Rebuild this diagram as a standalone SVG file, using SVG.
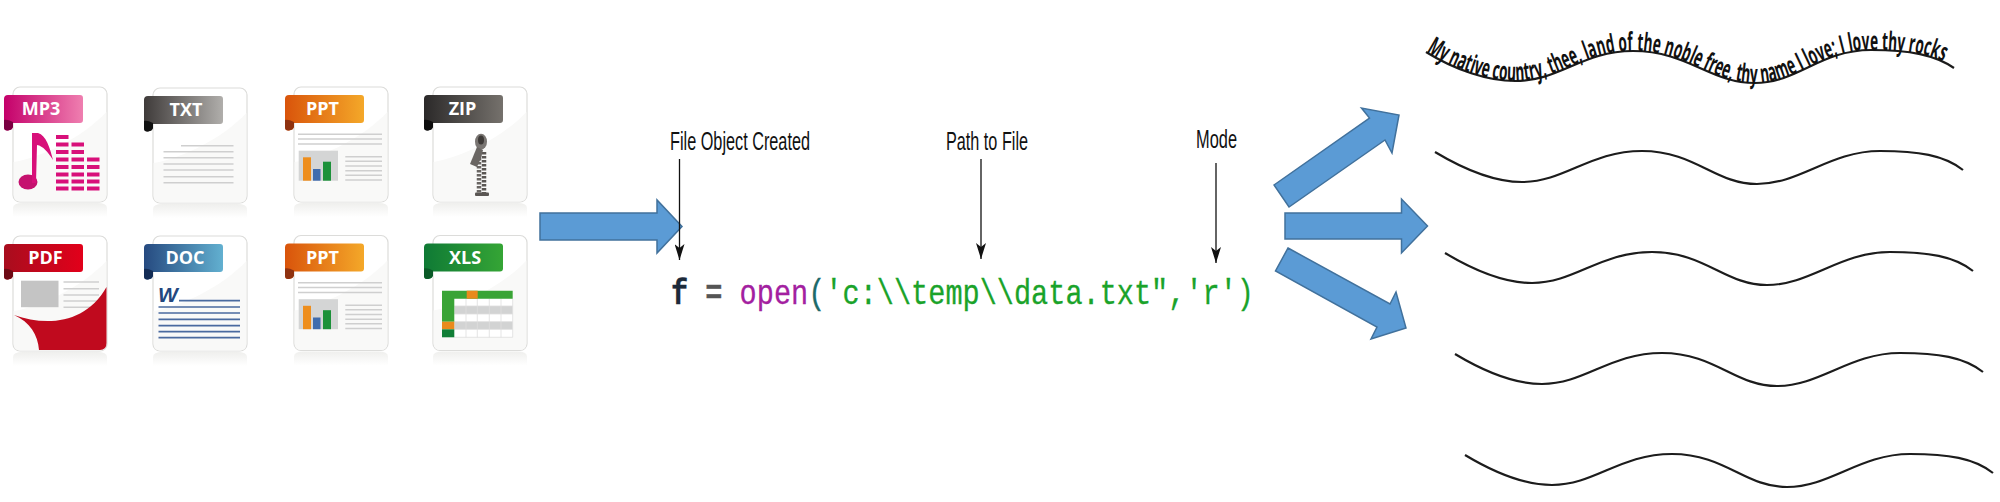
<svg xmlns="http://www.w3.org/2000/svg" xmlns:xlink="http://www.w3.org/1999/xlink" width="2000" height="502" viewBox="0 0 2000 502">
<style>
.rt{font-family:"Open Sans","Noto Sans",sans-serif;font-weight:700;font-size:18px;fill:#fff;text-anchor:middle}
.lb{font-family:"Liberation Sans",Arial,sans-serif;font-size:25px;fill:#111}
.code{font-family:"Liberation Mono","Courier New",monospace;font-size:35px;fill:#1aa32a;stroke:#1aa32a;stroke-width:.3}
.wave{fill:none;stroke:#1c1c1c;stroke-width:2.2}
.blk{fill:#5b9bd5;stroke:#41719c;stroke-width:1.5}
.ptr{stroke:#111;stroke-width:1.3;fill:none;marker-end:url(#tip)}
.ln{stroke:#cfcfcf;stroke-width:1.4;fill:none}
.bl{stroke:#4a6a9f;stroke-width:1.7;fill:none}
.m{fill:#d8107a}
</style>
<defs>
<marker id="tip" markerUnits="userSpaceOnUse" markerWidth="16" markerHeight="10" refX="16" refY="5" orient="auto" viewBox="0 0 16 10"><path d="M0 0 L16 5 L0 10 L4 5 Z" fill="#111"/></marker>
<linearGradient id="gMp3"><stop offset="0" stop-color="#c4006a"/><stop offset="1" stop-color="#ef7fb0"/></linearGradient>
<linearGradient id="gTxt"><stop offset="0" stop-color="#3f3b3a"/><stop offset="1" stop-color="#b0aeab"/></linearGradient>
<linearGradient id="gPdf"><stop offset="0" stop-color="#a80d1e"/><stop offset="1" stop-color="#e2001a"/></linearGradient>
<linearGradient id="gDoc"><stop offset="0" stop-color="#264a80"/><stop offset="1" stop-color="#62b0d0"/></linearGradient>
<linearGradient id="gPpt"><stop offset="0" stop-color="#d9540b"/><stop offset="1" stop-color="#f4a829"/></linearGradient>
<linearGradient id="gZip"><stop offset="0" stop-color="#2b2929"/><stop offset="1" stop-color="#75716c"/></linearGradient>
<linearGradient id="gXls"><stop offset="0" stop-color="#0f7a35"/><stop offset="1" stop-color="#35a535"/></linearGradient>
<linearGradient id="gRef" x1="0" y1="0" x2="0" y2="1"><stop offset="0" stop-color="#efefed"/><stop offset="1" stop-color="#fff"/></linearGradient>
<g id="page">
<path d="M0 121 Q0 116 10 116 L84 116 Q94 116 94 121 L94 130 L0 130 Z" fill="url(#gRef)"/>
<rect x="0" y="0" width="94" height="115" rx="7" fill="#fff" stroke="#dcdcda" stroke-width="1.2"/>
<path d="M0.6 75 C30 70 70 50 93.4 25 L93.4 108 Q93.4 114.4 87 114.4 L7 114.4 Q0.6 114.4 0.6 108 Z" fill="#f9f9f8"/>
</g>
<path id="ribbon" d="M-9 12 Q-9 8 -5 8 L67 8 Q70 8 70 11 L70 33 Q70 36 67 36 L0 36 L0 40 Q-1 43 -5 43.5 Q-9 44 -9 40 Z"/>
<path id="ribtail" d="M-9 33 L-9 40 Q-9 44 -5 43.5 Q-1 43 0 40 L0 35 Q-6 32 -9 33 Z"/>
<g id="pptBody">
<path class="ln" d="M298 134.3H382M298 139H382M298 144H382M345.3 156.7H382M345.3 161.3H382M345.3 166H382M345.3 170.7H382M345.3 175.3H382M345.3 180H382"/>
<rect x="298.7" y="150.7" width="39.3" height="30" fill="#d4d5d5"/>
<rect x="303" y="157.3" width="8" height="23.4" fill="#ee8e1d"/>
<rect x="313" y="169" width="7.5" height="11.7" fill="#3f6cae"/>
<rect x="323" y="161.7" width="8" height="19" fill="#1c9139"/>
</g>
<path id="wv" d="M1435 152 C1465 170 1495 182 1522 182 C1565 182 1590 151 1642 151 C1695 151 1715 184 1757 184 C1800 184 1830 151 1880 151 C1918 151 1944 155 1963 170"/>
<path id="wt" d="M1426 52 C1455 70 1488 81 1515 81 C1560 81 1582 51 1633 51 C1688 51 1710 83 1755 83 C1798 83 1820 50 1871 50 C1910 50 1935 55 1954 68"/>
</defs>
<rect width="2000" height="502" fill="#fff"/>

<g id="icon-mp3">
<use href="#page" x="13" y="87"/>
<use href="#ribbon" x="13" y="87" fill="url(#gMp3)"/><use href="#ribtail" x="13" y="87" fill="#7a0042"/>
<text class="rt" x="41" y="115">MP3</text>
<ellipse cx="28" cy="182" rx="9.5" ry="7.5" fill="#c5126f"/>
<path d="M32 183 L32 133 L38 133 C46 135 50 148 53 160 C48 152 43 146 37 145 L36 183 Z" fill="#d8107a"/>
<path class="m" d="M56 135h12.500v4h-12.500zM56 142.500h12.500v4h-12.500zM56 150h12.500v4h-12.500zM56 157.500h12.500v4h-12.500zM56 165h12.500v4h-12.500zM56 172.500h12.500v4h-12.500zM56 179.500h12.500v4h-12.500zM56 186.500h12.500v4h-12.500z"/>
<path class="m" d="M71.500 142.500h12.500v4h-12.500zM71.500 150h12.500v4h-12.500zM71.500 157.500h12.500v4h-12.500zM71.500 165h12.500v4h-12.500zM71.500 172.500h12.500v4h-12.500zM71.500 179.500h12.500v4h-12.500zM71.500 186.500h12.500v4h-12.500z"/>
<path class="m" d="M87 157.500h12.500v4h-12.500zM87 165h12.500v4h-12.500zM87 172.500h12.500v4h-12.500zM87 179.500h12.500v4h-12.500zM87 186.500h12.500v4h-12.500z"/>
</g>

<g id="icon-txt">
<use href="#page" x="153" y="88"/>
<use href="#ribbon" x="153" y="88" fill="url(#gTxt)"/><use href="#ribtail" x="153" y="88" fill="#111"/>
<text class="rt" x="186" y="116">TXT</text>
<path class="ln" d="M181 145.700H233.500M163.500 151.700H233.500M163.500 157.700H233.500M163.500 164H233.500M163.500 170H233.500M163.500 176.700H233.500M163.500 182.700H233.500"/>
</g>

<g id="icon-ppt-1">
<use href="#page" x="294" y="87"/>
<use href="#ribbon" x="294" y="87" fill="url(#gPpt)"/><use href="#ribtail" x="294" y="87" fill="#8f3210"/>
<text class="rt" x="322.500" y="115">PPT</text>
<use href="#pptBody"/>
</g>

<g id="icon-zip">
<use href="#page" x="433" y="87"/>
<use href="#ribbon" x="433" y="87" fill="url(#gZip)"/><use href="#ribtail" x="433" y="87" fill="#0d0d0d"/>
<text class="rt" x="462.500" y="115">ZIP</text>
<path d="M479 150 V193" stroke="#6a6663" stroke-width="4.500" stroke-dasharray="2.500 1.500" fill="none"/>
<path d="M484 152 V193" stroke="#5a5653" stroke-width="4.500" stroke-dasharray="2.500 1.500" fill="none"/>
<rect x="475" y="192.500" width="14" height="3.500" rx="1" fill="#5a5653"/>
<ellipse cx="481" cy="141.700" rx="6" ry="8" fill="#7a7673"/>
<ellipse cx="481" cy="140" rx="3" ry="4.500" fill="#3e3a38"/>
<path d="M477 147 L483 150 L481 158 L477 167 L470 164 Z" fill="#6a6663"/>
</g>

<g id="icon-pdf">
<use href="#page" x="13" y="236"/>
<use href="#ribbon" x="13" y="236" fill="url(#gPdf)"/><use href="#ribtail" x="13" y="236" fill="#6d0a14"/>
<text class="rt" x="45.500" y="264">PDF</text>
<rect x="21" y="280.700" width="37.500" height="26.500" fill="#c4c4c4"/>
<path class="ln" d="M63.500 282H99M63.500 288.700H99M63.500 295H99M63.500 301H99M63.500 307.300H90"/>
<path d="M14 315 C45 326 85 325 106.500 287 L106.500 343 Q106.500 350 100 350 L39 350 C38 335 30 322 14 315 Z" fill="#c00a1e"/>
</g>

<g id="icon-doc">
<use href="#page" x="153" y="236"/>
<use href="#ribbon" x="153" y="236" fill="url(#gDoc)"/><use href="#ribtail" x="153" y="236" fill="#132c55"/>
<text class="rt" x="185" y="264">DOC</text>
<text x="168" y="302" font-family="Liberation Sans,Arial,sans-serif" font-weight="700" font-style="italic" font-size="21" text-anchor="middle" fill="#24477f">W</text>
<path class="bl" d="M179 300.700H240M158.500 307H240M158.500 313H240M158.500 319.300H240M158.500 325.700H240M158.500 331.700H240M158.500 337.700H240"/>
</g>

<g id="icon-ppt-2">
<use href="#page" x="294" y="235.500"/>
<use href="#ribbon" x="294" y="235.500" fill="url(#gPpt)"/><use href="#ribtail" x="294" y="235.500" fill="#8f3210"/>
<text class="rt" x="322.500" y="263.500">PPT</text>
<use href="#pptBody" y="148.500"/>
</g>

<g id="icon-xls">
<use href="#page" x="433" y="235.500"/>
<use href="#ribbon" x="433" y="235.500" fill="url(#gXls)"/><use href="#ribtail" x="433" y="235.500" fill="#0a5a27"/>
<text class="rt" x="465" y="263.500">XLS</text>
<rect x="442" y="290.700" width="70.700" height="46.600" fill="#fff"/>
<rect x="454.300" y="306" width="58.400" height="8" fill="#d2d3d3"/>
<rect x="454.300" y="321.700" width="58.400" height="7.600" fill="#d2d3d3"/>
<path d="M466 298.700V337.300M477.300 298.700V337.300M489.300 298.700V337.300M501 298.700V337.300M454.300 306H512.700M454.300 314H512.700M454.300 321.700H512.700M454.300 329.300H512.700M512.700 298.700V337.300M454.300 337.300H512.700" stroke="#dedede" stroke-width="0.800" fill="none"/>
<path d="M442 290.700H512.700V298.700H454.300V321.700H442Z" fill="#39a436"/>
<rect x="466.700" y="290.700" width="11" height="8" fill="#ea8a1c"/>
<rect x="442" y="321.700" width="12.300" height="7.600" fill="#ea8a1c"/>
<rect x="442" y="329.300" width="12.300" height="8" fill="#117f37"/>
</g>

<g id="connectors">
<path class="blk" d="M540 213 H657 V200 L682 226.500 L657 253 V240 H540 Z"/>
<path class="ptr" d="M679.500 159 V260"/>
<path class="ptr" d="M981 159 V259"/>
<path class="ptr" d="M1216 163 V263"/>
<path class="blk" d="M1274 185 L1369.500 118 L1361.500 108 L1399 115 L1392 153 L1385 140 L1289 207 Z"/>
<path class="blk" d="M1285 213 H1401.500 V199 L1427.500 226 L1401.500 253 V239 H1285 Z"/>
<path class="blk" d="M1288 248 L1390 304 L1396 292 L1406 328 L1371 339 L1377 327 L1275.500 271 Z"/>
</g>

<g id="label-file-object"><text class="lb" x="670" y="150" textLength="140" lengthAdjust="spacingAndGlyphs">File Object Created</text></g>
<g id="label-path"><text class="lb" x="946" y="150" textLength="82" lengthAdjust="spacingAndGlyphs">Path to File</text></g>
<g id="label-mode"><text class="lb" x="1196" y="148" textLength="41" lengthAdjust="spacingAndGlyphs">Mode</text></g>

<g id="code"><text class="code" x="671" y="304" textLength="583" lengthAdjust="spacingAndGlyphs" xml:space="preserve"><tspan fill="#1c2a3a" stroke="#1c2a3a" font-weight="700">f</tspan> <tspan fill="#555" stroke="#555" font-weight="700">=</tspan> <tspan fill="#a320a0" stroke="#a320a0">open</tspan><tspan fill="#1d6a6a" stroke="#1d6a6a">(</tspan>'c:\\temp\\data.txt",'r')</text></g>

<g id="waves">
<use class="wave" href="#wt"/>
<use class="wave" href="#wv"/>
<use class="wave" href="#wv" x="10" y="101"/>
<use class="wave" href="#wv" x="20" y="202"/>
<use class="wave" href="#wv" x="30" y="303"/>
</g>
<g id="wave-text"><text font-family="Open Sans,Noto Sans,sans-serif" font-weight="700" font-size="26" fill="#111"><textPath href="#wt" textLength="540" lengthAdjust="spacingAndGlyphs">My native country, thee, land of the noble free, thy name I love; I love thy rocks</textPath></text></g>
</svg>
